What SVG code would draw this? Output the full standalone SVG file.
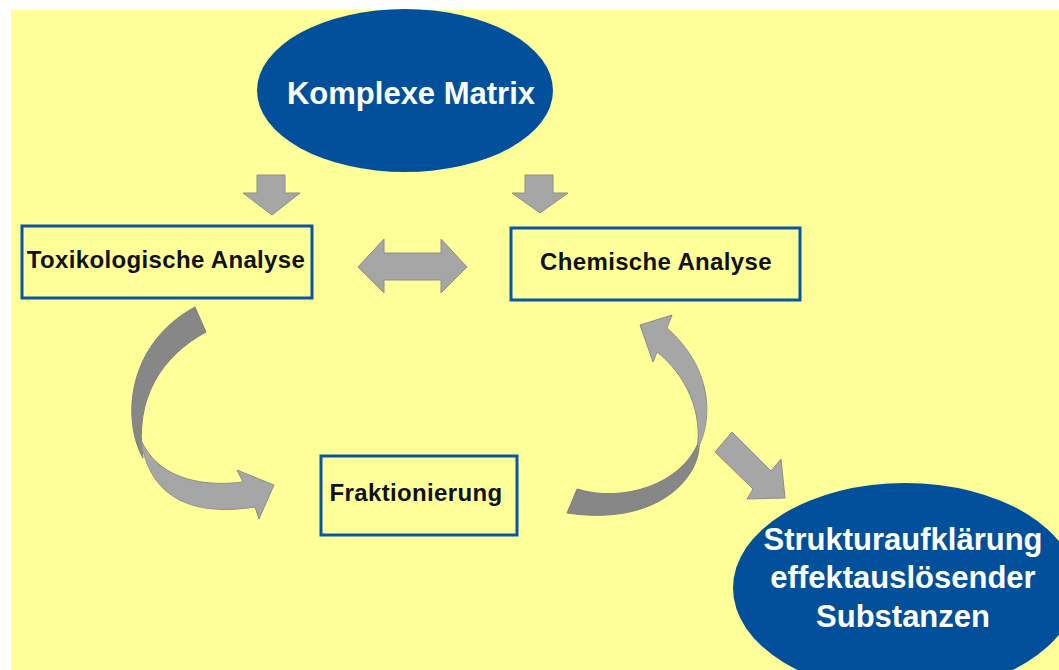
<svg xmlns="http://www.w3.org/2000/svg" width="1059" height="670" viewBox="0 0 1059 670">
<style>
.box{fill:#FFFF99;stroke:#0A55A5;stroke-width:3}
.oval{fill:#02509C}
.arr{fill:#A6A6A6;stroke:#8E8E8E;stroke-width:1}
.dark{fill:#878787;stroke:#808080;stroke-width:1}
.bt{font-family:"Liberation Sans",Arial,sans-serif;font-weight:bold;font-size:24px;fill:#111;text-anchor:middle;letter-spacing:0.35px}
.wt{font-family:"Liberation Sans",Arial,sans-serif;font-weight:bold;font-size:31px;fill:#fff;text-anchor:middle}
</style>
<rect x="0" y="0" width="1059" height="670" fill="#fff"/>
<rect x="11" y="10" width="1048" height="660" fill="#FFFF99"/>
<g id="connectors">
<path class="arr" d="M257,175 L285,175 L285,193 L300,193 L272,215 L243,193 L257,193 Z"/>
<path class="arr" d="M525,175 L553,175 L553,193 L568,193 L540,213 L512,193 L525,193 Z"/>
<path class="arr" d="M358,267 L384,239 L384,253 L441,253 L441,239 L467,267 L441,293 L441,280 L384,280 L384,293 Z"/>
<path class="dark" d="M195,307 L206,332 C162,356 134,398 143,458 C121,418 128,343 195,307 Z"/>
<path class="arr" d="M141,440 C156,475 196,488 243,482 L237,470 L274,485 L259,519 L255,507 C198,516 150,502 141,440 Z"/>
<path class="dark" d="M567,513 L577,489 C622,503 682,485 699,441 C702,475 660,527 567,513 Z"/>
<path class="arr" d="M697,450 C714,418 712,368 667,328 L672,315 L640,325 L653,362 L657,352 C686,375 703,412 697,450 Z"/>
<path class="arr" d="M715,452 L732,432 L771,471 L781,459 L785,498 L747,499 L753,489 Z"/>
</g>
<g id="komplexe-matrix">
<ellipse class="oval" cx="405" cy="90.5" rx="148" ry="81.5"/>
<text class="wt" x="411" y="104">Komplexe Matrix</text>
</g>
<g id="toxikologische-analyse">
<rect class="box" x="22" y="226" width="290" height="72"/>
<text class="bt" x="166" y="268">Toxikologische Analyse</text>
</g>
<g id="chemische-analyse">
<rect class="box" x="511" y="228" width="289" height="72"/>
<text class="bt" x="656" y="270">Chemische Analyse</text>
</g>
<g id="fraktionierung">
<rect class="box" x="321" y="456" width="196" height="79"/>
<text class="bt" x="416" y="501">Fraktionierung</text>
</g>
<g id="strukturaufklaerung">
<ellipse class="oval" cx="905" cy="588" rx="172" ry="105"/>
<text class="wt" x="903" y="550">Strukturaufklärung</text>
<text class="wt" x="903" y="588">effektauslösender</text>
<text class="wt" x="903" y="627">Substanzen</text>
</g>
</svg>
